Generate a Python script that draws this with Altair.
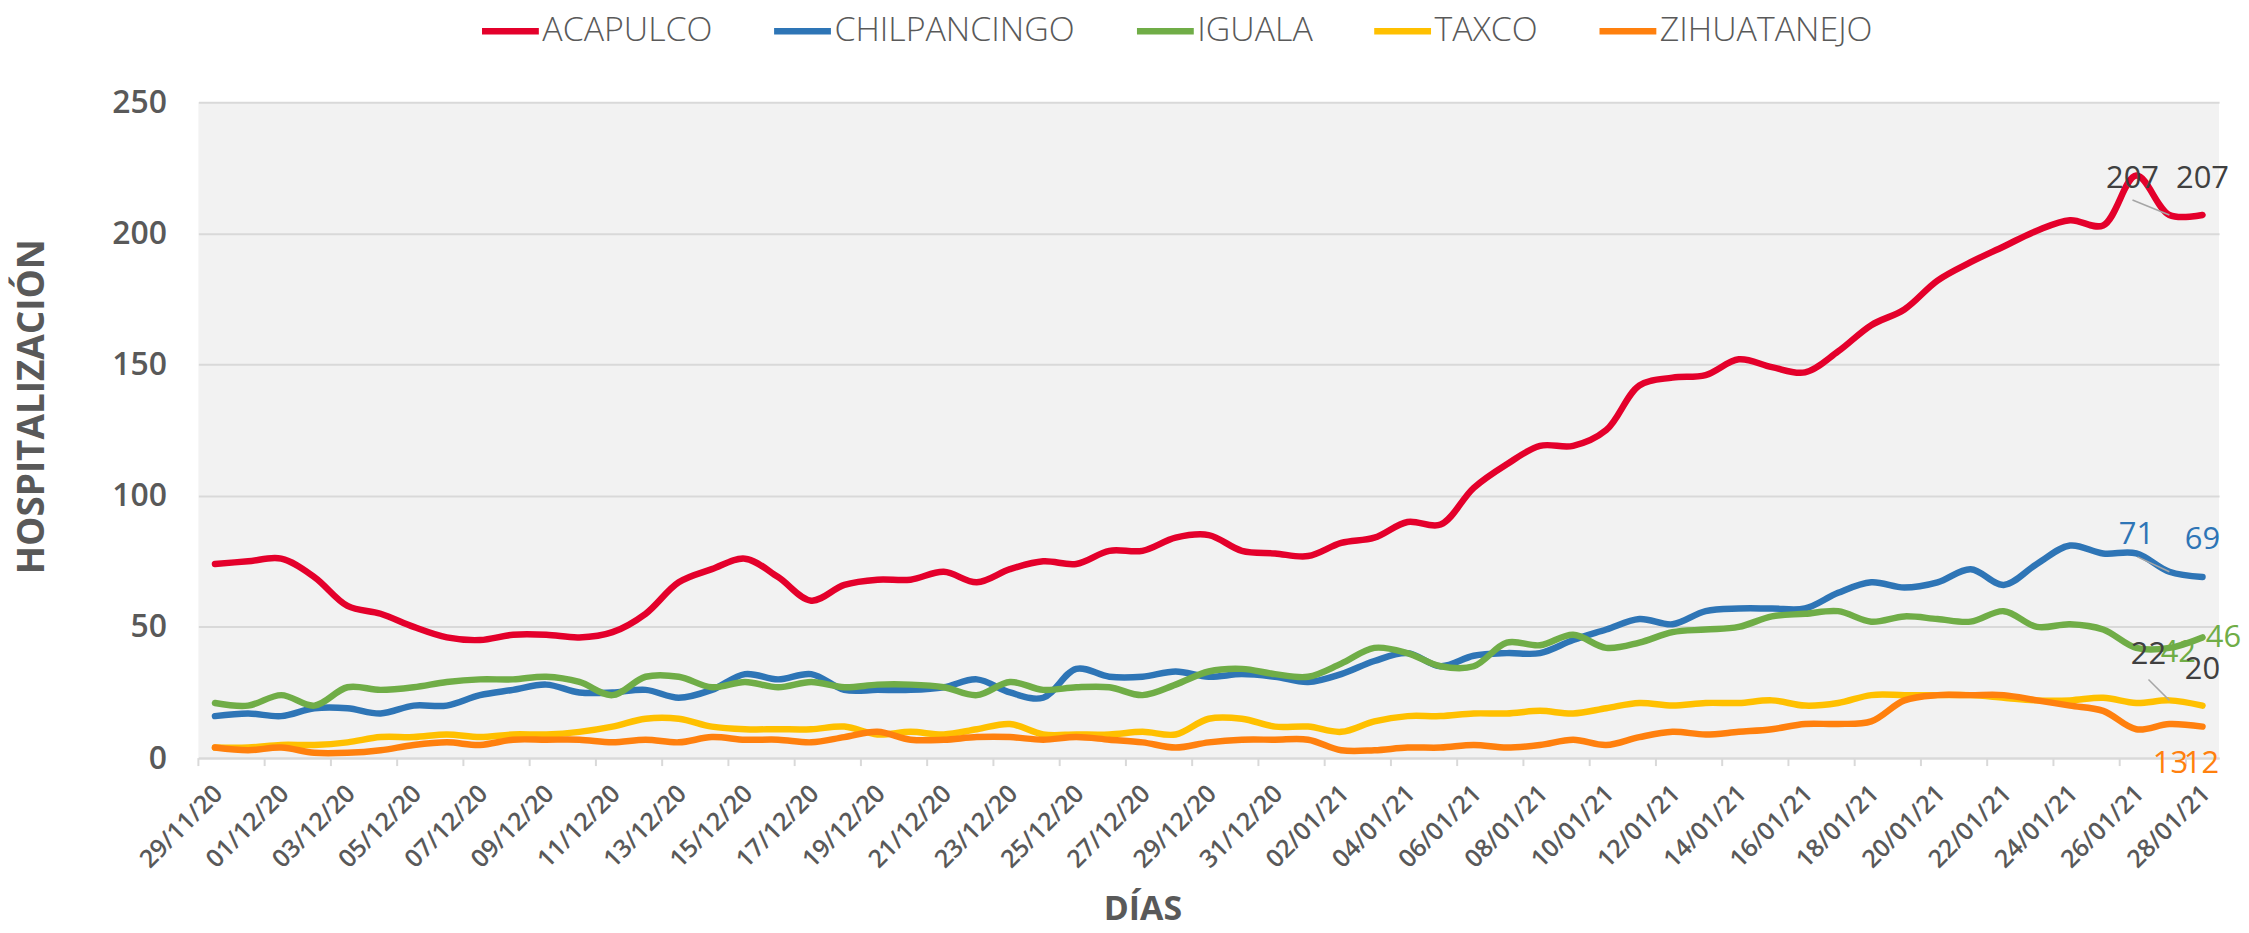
import json
import altair as alt
import pandas as pd

# ---------------- data ----------------
fechas = [d.strftime("%d/%m/%y") for d in pd.date_range("2020-11-29", "2021-01-28", freq="D")]

municipios = ["ACAPULCO", "CHILPANCINGO", "IGUALA", "TAXCO", "ZIHUATANEJO"]
colores = ["#E4002B", "#2E75B6", "#70AD47", "#FFC000", "#FF800E"]

acapulco = [74, 75, 76, 69, 58, 55, 50, 46, 45, 47, 47, 46, 48, 55, 67, 72, 76, 69, 60, 66,
            68, 68, 71, 67, 72, 75, 74, 79, 79, 84, 85, 79, 78, 77, 82, 84, 90, 89, 103, 112,
            119, 119, 125, 142, 145, 146, 152, 149, 147, 155, 165, 171, 182, 189, 195, 201, 205, 203, 222, 207,
            207]
chilpancingo = [16, 17, 16, 19, 19, 17, 20, 20, 24, 26, 28, 25, 25, 26, 23, 26, 32, 30, 32, 26,
                26, 26, 27, 30, 25, 23, 34, 31, 31, 33, 31, 32, 31, 29, 32, 37, 40, 35, 39, 40,
                40, 45, 49, 53, 51, 56, 57, 57, 57, 63, 67, 65, 67, 72, 66, 74, 81, 78, 78, 71,
                69]
iguala = [21, 20, 24, 20, 27, 26, 27, 29, 30, 30, 31, 29, 24, 31, 31, 27, 29, 27, 29, 27,
          28, 28, 27, 24, 29, 26, 27, 27, 24, 28, 33, 34, 32, 31, 36, 42, 40, 35, 35, 44,
          43, 47, 42, 44, 48, 49, 50, 54, 55, 56, 52, 54, 53, 52, 56, 50, 51, 49, 42, 42,
          46]
taxco = [4, 4, 5, 5, 6, 8, 8, 9, 8, 9, 9, 10, 12, 15, 15, 12, 11, 11, 11, 12,
         9, 10, 9, 11, 13, 9, 9, 9, 10, 9, 15, 15, 12, 12, 10, 14, 16, 16, 17, 17,
         18, 17, 19, 21, 20, 21, 21, 22, 20, 21, 24, 24, 24, 24, 23, 22, 22, 23, 21, 22,
         20]
zihuatanejo = [4, 3, 4, 2, 2, 3, 5, 6, 5, 7, 7, 7, 6, 7, 6, 8, 7, 7, 6, 8,
               10, 7, 7, 8, 8, 7, 8, 7, 6, 4, 6, 7, 7, 7, 3, 3, 4, 4, 5, 4,
               5, 7, 5, 8, 10, 9, 10, 11, 13, 13, 14, 22, 24, 24, 24, 22, 20, 18, 11, 13,
               12]

series = dict(zip(municipios, [acapulco, chilpancingo, iguala, taxco, zihuatanejo]))
rows = []
for m, vals in series.items():
    for i, v in enumerate(vals):
        rows.append({"idx": i, "fecha": fechas[i], "municipio": m, "valor": v})
df = pd.DataFrame(rows)

n = len(fechas)
limites = pd.DataFrame({"idx": [k - 0.5 for k in range(0, n, 2)]})

# ---------------- styling ----------------
W, H = 2027, 658
GRAY = "#595959"
FONT = "Open Sans"

xscale = alt.Scale(domain=[-0.5, n - 0.5], nice=False, zero=False)
yscale = alt.Scale(domain=[0, 250], nice=False)

label_expr = json.dumps(fechas) + "[datum.value]"

x_axis = alt.Axis(
    values=list(range(0, n, 2)), labelExpr=label_expr, labelAngle=-45,
    labelAlign="right", labelBaseline="middle", labelPadding=31, labelOffset=3,
    labelFont=FONT, labelFontSize=25, labelFontWeight=600, labelColor=GRAY,
    labelOverlap=False, labelFlush=False, labelBound=False,
    ticks=False, grid=False, domain=True, domainColor="#D9D9D9", domainWidth=2,
    title="DÍAS", titleX=947, titleY=152, titleAlign="center", titleBaseline="middle",
    titleFont=FONT, titleFontSize=34, titleFontWeight="bold", titleColor=GRAY,
)
y_axis = alt.Axis(
    values=[0, 50, 100, 150, 200, 250], labelFont=FONT, labelFontSize=32,
    labelFontWeight=600, labelColor=GRAY, labelPadding=32,
    ticks=False, domain=False, grid=True, gridColor="#D9D9D9", gridWidth=2,
    title="HOSPITALIZACIÓN", titleX=-166, titleY=305, titleAngle=270,
    titleAlign="center", titleBaseline="middle",
    titleFont=FONT, titleFontSize=37, titleFontWeight="bold", titleColor=GRAY,
)

X = alt.X("idx:Q", scale=xscale, axis=x_axis)
Y = alt.Y("valor:Q", scale=yscale, axis=y_axis)

legend = alt.Legend(
    orient="none", legendX=281, legendY=-103, direction="horizontal", title=None,
    symbolType="stroke", symbolSize=3249, symbolStrokeWidth=6.5,
    labelFont=FONT, labelFontWeight=300, labelFontSize=34, labelColor=GRAY,
    labelLimit=600, columnPadding=48, labelOffset=0,
)

lines = alt.Chart(df).mark_line(
    strokeWidth=6.5, interpolate="catmull-rom", strokeCap="round", strokeJoin="round"
).encode(
    x=X, y=Y,
    color=alt.Color("municipio:N", scale=alt.Scale(domain=municipios, range=colores),
                    sort=municipios, legend=legend),
)

ticks = alt.Chart(limites).mark_rule(color="#D9D9D9", strokeWidth=2).encode(
    x=X, y=alt.value(H), y2=alt.value(H + 8),
)

# label offsets (px) for the last two points of each series
label_style = {
    "ACAPULCO": ("#404040", [(-37, -36), (0, -36)]),
    "CHILPANCINGO": ("#2E75B6", [(-33, -37), (0, -37)]),
    "IGUALA": ("#70AD47", [(9, 5), (21, 1)]),
    "TAXCO": ("#404040", [(-21, -45), (0, -36)]),
    "ZIHUATANEJO": ("#FF800E", [(1, 40), (-1, 38)]),
}
leaders = {"ACAPULCO": (-37, -15), "CHILPANCINGO": (-32, -15), "TAXCO": (-21, -21)}

layers = [lines, ticks]
for m, (col, offs) in label_style.items():
    for k, (dx, dy) in enumerate(offs):
        i = n - 2 + k
        sub = df[(df.municipio == m) & (df.idx == i)]
        if m in leaders and k == 0:
            lx, ly = leaders[m]
            layers.append(
                alt.Chart(sub).mark_rule(color="#A6A6A6", strokeWidth=1.5,
                                         x2Offset=lx, y2Offset=ly).encode(
                    x=X, x2="idx:Q", y=Y, y2="valor:Q",
                )
            )
        layers.append(
            alt.Chart(sub).mark_text(
                dx=dx, dy=dy, align="center", baseline="middle",
                font=FONT, fontSize=31, fontWeight=400, color=col,
            ).encode(
                x=X, y=Y, text=alt.Text("valor:Q"),
            )
        )

chart = alt.layer(*layers).properties(
    width=W, height=H,
    padding={"left": 191, "top": 93, "right": 22, "bottom": 166},
    autosize=alt.AutoSizeParams(type="none"),
).configure_view(fill="#F2F2F2", stroke=None)

chart.save("out.html", embed_options={"renderer": "svg", "actions": False})
